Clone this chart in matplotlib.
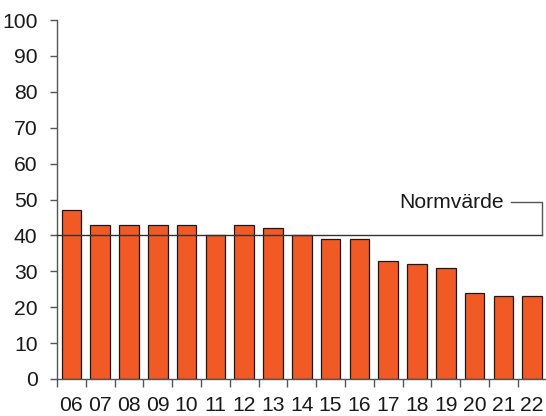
import matplotlib
matplotlib.use("Agg")
import matplotlib.pyplot as plt
import numpy as np

plt.rcParams['font.family'] = ['Liberation Sans', 'DejaVu Sans']

categories = ["06", "07", "08", "09", "10", "11", "12", "13", "14", "15", "16", "17", "18", "19", "20", "21", "22"]
values = [47, 43, 43, 43, 43, 40, 43, 42, 40, 39, 39, 33, 32, 31, 24, 23, 23]
norm_value = 40
norm_label = "Normvärde"
yticks = [0, 10, 20, 30, 40, 50, 60, 70, 80, 90, 100]

FS = 15.2

fig = plt.figure(figsize=(5.46, 4.16), dpi=100)
ax = fig.add_axes([57/546, 37/416, (546.6-57)/546, (379-20)/416])

x = np.arange(len(categories))
ax.bar(x, values, width=0.68, color="#F15A24", edgecolor="#1a1a1a", linewidth=0.9, zorder=2)

ax.set_xlim(-0.5, len(categories) - 0.5)
ax.set_ylim(0, 100)
ax.set_yticks(yticks)
ax.set_yticklabels([str(v) for v in yticks])

ax.set_xticks(x)
ax.set_xticklabels(categories)
ax.set_xticks(np.arange(len(categories) + 1) - 0.5, minor=True)
ax.tick_params(axis='x', which='major', length=0, pad=12, labelsize=FS, colors="#1a1a1a")
ax.tick_params(axis='x', which='minor', length=6, width=1, color="#555555", direction='out')
ax.tick_params(axis='y', length=5, width=1, color="#555555", pad=9, labelsize=FS, labelcolor="#1a1a1a")

for s in ['top', 'right']:
    ax.spines[s].set_visible(False)
for s in ['left', 'bottom']:
    ax.spines[s].set_color("#555555")
    ax.spines[s].set_linewidth(1)

# Norm line with callout
xr = len(categories) - 1 + 0.33
ax.plot([-0.5, xr], [norm_value, norm_value], color="#333333", lw=1, zorder=3, clip_on=False)
ax.plot([xr, xr, xr - 1.07], [norm_value, 49.2, 49.2], color="#555555", lw=1, zorder=3, clip_on=False)
ax.text(xr - 1.3, 49.2, norm_label, ha='right', va='center', fontsize=FS, color="#1a1a1a")

fig.savefig("out.png", dpi=100)
